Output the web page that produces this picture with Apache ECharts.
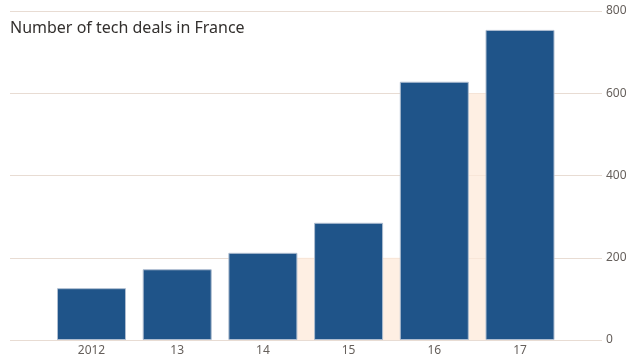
<!DOCTYPE html>
<html>
<head>
<meta charset="utf-8">
<style>html,body{margin:0;padding:0;background:#fff;}#chart{width:640px;height:360px;}</style>
<script src="https://cdn.jsdelivr.net/npm/echarts@6/dist/echarts.min.js"></script>
</head>
<body>
<div id="chart"></div>
<script>
const categories = ['2012', '13', '14', '15', '16', '17'];
const deals = [126, 172, 212, 285, 628, 754];
const shade = [null, null, 200, 200, 600, 600];
const yTicks = [0, 200, 400, 600, 800];

const chart = echarts.init(document.getElementById('chart'), null, {renderer: 'canvas'});
const font = '"Noto Sans", "Open Sans", sans-serif';
chart.setOption({
  animation: false,
  backgroundColor: '#ffffff',
  title: {
    text: 'Number of tech deals in France',
    left: 10, top: 20, padding: 0,
    textStyle: {fontFamily: font, fontSize: 16, fontWeight: 'normal', color: '#33302e'}
  },
  grid: [
    {left: 10, right: 38, top: 11, bottom: 20},
    {left: 48.65, right: 77.15, top: 11, bottom: 20}
  ],
  xAxis: [
    {gridIndex: 0, type: 'value', min: 0, max: 1, show: false},
    {
      gridIndex: 1, type: 'category', data: categories,
      axisLine: {show: false}, axisTick: {show: false},
      axisLabel: {fontFamily: font, fontSize: 12, color: '#66605c', margin: 5}
    }
  ],
  yAxis: [
    {
      gridIndex: 0, type: 'value', position: 'right', min: 0, max: 800, interval: 200,
      axisLine: {show: false}, axisTick: {show: false},
      axisLabel: {fontFamily: font, fontSize: 12, color: '#66605c', margin: 4,
        formatter: v => yTicks.includes(v) ? String(v) : ''},
      splitLine: {lineStyle: {color: '#e8dcd3', width: 1}}
    },
    {gridIndex: 1, type: 'value', min: 0, max: 800, show: false, splitLine: {show: false}}
  ],
  series: [
    {
      type: 'line', xAxisIndex: 1, yAxisIndex: 1, data: shade, step: 'end',
      symbol: 'none', lineStyle: {width: 0},
      areaStyle: {color: '#fde9d9', opacity: 0.75}, z: 1, silent: true
    },
    {
      type: 'bar', xAxisIndex: 1, yAxisIndex: 1, data: deals, barWidth: 69,
      itemStyle: {color: '#1f5489', borderColor: '#aebdd0', borderWidth: 1}, z: 3
    }
  ]
});
</script>
</body>
</html>
